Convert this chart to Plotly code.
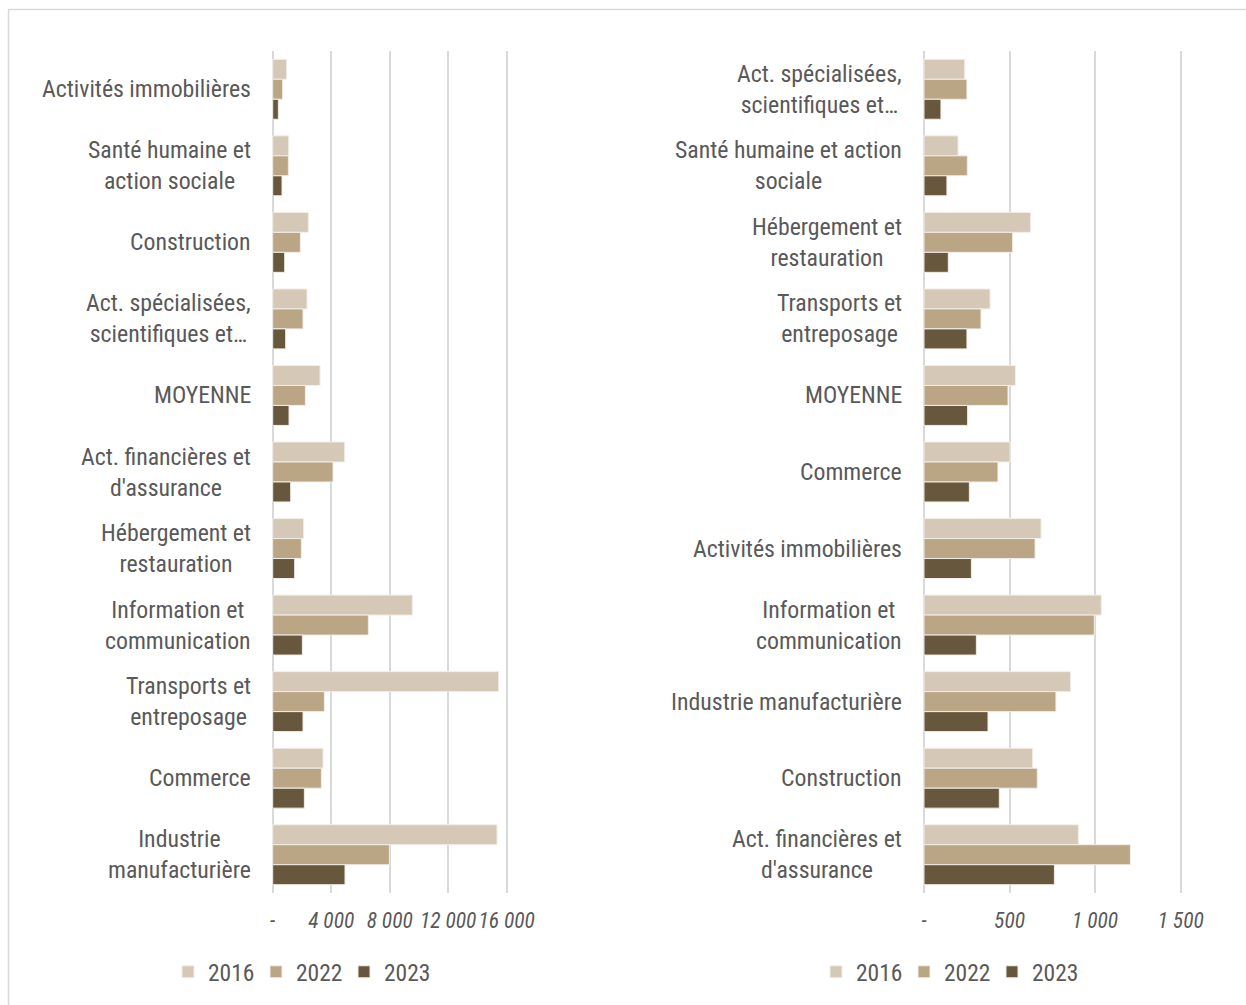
import plotly.graph_objects as go

# ---- data -------------------------------------------------------------
years = ["2016", "2022", "2023"]
colors = ["#D5C8B6", "#BAA585", "#67573C"]

left_categories = [
    "Activités immobilières",
    "Santé humaine et action sociale",
    "Construction",
    "Act. spécialisées, scientifiques et techniques",
    "MOYENNE",
    "Act. financières et d'assurance",
    "Hébergement et restauration",
    "Information et communication",
    "Transports et entreposage",
    "Commerce",
    "Industrie manufacturière",
]
left_labels = [
    "Activités immobilières",
    "Santé humaine et<br>action sociale",
    "Construction",
    "Act. spécialisées,<br>scientifiques et…",
    "MOYENNE",
    "Act. financières et<br>d'assurance",
    "Hébergement et<br>restauration",
    "Information et<br>communication",
    "Transports et<br>entreposage",
    "Commerce",
    "Industrie<br>manufacturière",
]
left_2016 = [957, 1094, 2439, 2348, 3237, 4923, 2119, 9549, 15452, 3441, 15338]
left_2022 = [684, 1071, 1891, 2074, 2234, 4125, 1960, 6541, 3533, 3327, 7977]
left_2023 = [388, 638, 820, 889, 1117, 1230, 1504, 2028, 2074, 2165, 4945]
left_tickvals = [0, 4000, 8000, 12000, 16000]
left_ticktext = ["-", "4 000", "8 000", "12 000", "16 000"]

right_categories = [
    "Act. spécialisées, scientifiques et techniques",
    "Santé humaine et action sociale",
    "Hébergement et restauration",
    "Transports et entreposage",
    "MOYENNE",
    "Commerce",
    "Activités immobilières",
    "Information et communication",
    "Industrie manufacturière",
    "Construction",
    "Act. financières et d'assurance",
]
right_labels = [
    "Act. spécialisées,<br>scientifiques et…",
    "Santé humaine et action<br>sociale",
    "Hébergement et<br>restauration",
    "Transports et<br>entreposage",
    "MOYENNE",
    "Commerce",
    "Activités immobilières",
    "Information et<br>communication",
    "Industrie manufacturière",
    "Construction",
    "Act. financières et<br>d'assurance",
]
right_2016 = [238, 199, 623, 386, 534, 503, 684, 1036, 857, 635, 902]
right_2022 = [251, 253, 518, 333, 491, 432, 649, 995, 771, 662, 1206]
right_2023 = [99, 134, 142, 251, 255, 265, 277, 306, 374, 440, 762]
right_tickvals = [0, 500, 1000, 1500]
right_ticktext = ["-", "500", "1 000", "1 500"]

# ---- figure -----------------------------------------------------------
W, H = 1246, 1005
FONT = "Roboto Condensed, Liberation Sans Narrow, Roboto, sans-serif"
TXT = "#595959"
GRID = "#D9D9D9"
LABEL_SIZE = 23.8

fig = go.Figure()

for name, vals, col in zip(years, [left_2016, left_2022, left_2023], colors):
    fig.add_trace(go.Bar(
        y=left_categories, x=vals, name=name, orientation="h",
        marker=dict(color=col, line=dict(color="#F2EEE8", width=1)),
        xaxis="x", yaxis="y", legend="legend",
    ))
for name, vals, col in zip(years, [right_2016, right_2022, right_2023], colors):
    fig.add_trace(go.Bar(
        y=right_categories, x=vals, name=name, orientation="h",
        marker=dict(color=col, line=dict(color="#F2EEE8", width=1)),
        xaxis="x2", yaxis="y2", legend="legend2",
    ))

y_dom = [1 - 893 / H, 1 - 51 / H]

# small padding on both ends so the gridlines at 0 and at the last tick stay visible
left_px_per_unit = (506.7 - 272.7) / 16000
right_px_per_unit = (1180.7 - 924) / 1500
PAD = 2

axis_common = dict(
    showgrid=True, gridcolor=GRID, gridwidth=2, zeroline=False,
    showline=False, ticks="", automargin=False,
    tickfont=dict(family=FONT, size=21.5, color=TXT, style="italic"),
    ticklabelstandoff=12,
)
legend_common = dict(
    orientation="h", y=1 - 972 / H, xanchor="left", yanchor="middle",
    font=dict(family=FONT, size=23.5, color=TXT),
    bgcolor="rgba(0,0,0,0)", traceorder="normal",
    entrywidth=43, entrywidthmode="pixels",
)
fig.update_layout(
    template="plotly_white",
    xaxis=dict(domain=[(272.7 - PAD) / W, (506.7 + PAD) / W],
               range=[-PAD / left_px_per_unit, 16000 + PAD / left_px_per_unit],
               tickvals=left_tickvals, ticktext=left_ticktext, anchor="y",
               **axis_common),
    yaxis=dict(domain=y_dom, autorange="reversed", showticklabels=False,
               showgrid=False, zeroline=False, anchor="x", automargin=False),
    xaxis2=dict(domain=[(924 - PAD) / W, (1180.7 + PAD) / W],
                range=[-PAD / right_px_per_unit, 1500 + PAD / right_px_per_unit],
                tickvals=right_tickvals, ticktext=right_ticktext, anchor="y2",
                **axis_common),
    yaxis2=dict(domain=y_dom, autorange="reversed", showticklabels=False,
                showgrid=False, zeroline=False, anchor="x2", automargin=False),
    barmode="group", bargap=0.217, bargroupgap=0,
    width=W, height=H,
    margin=dict(l=0, r=0, t=0, b=0, pad=0, autoexpand=False),
    paper_bgcolor="white", plot_bgcolor="white",
    font=dict(family=FONT, color=TXT, size=LABEL_SIZE),
    legend=dict(x=168 / W, **legend_common),
    legend2=dict(x=816 / W, **legend_common),
)

# category labels, centred on several lines
for cat, lab in zip(left_categories, left_labels):
    fig.add_annotation(x=253 / W, xref="paper", y=cat, yref="y", text=lab,
                       showarrow=False, xanchor="right", yanchor="middle",
                       align="center",
                       font=dict(family=FONT, size=LABEL_SIZE, color=TXT))
for cat, lab in zip(right_categories, right_labels):
    fig.add_annotation(x=904 / W, xref="paper", y=cat, yref="y2", text=lab,
                       showarrow=False, xanchor="right", yanchor="middle",
                       align="center",
                       font=dict(family=FONT, size=LABEL_SIZE, color=TXT))

# outer frame (top and left edges)
fig.add_shape(type="line", xref="paper", yref="paper",
              x0=8 / W, x1=1.01, y0=1 - 9.5 / H, y1=1 - 9.5 / H,
              line=dict(color=GRID, width=1.5))
fig.add_shape(type="line", xref="paper", yref="paper",
              x0=8.5 / W, x1=8.5 / W, y0=-0.01, y1=1 - 9.5 / H,
              line=dict(color=GRID, width=1.5))

fig.write_html("out.html")
